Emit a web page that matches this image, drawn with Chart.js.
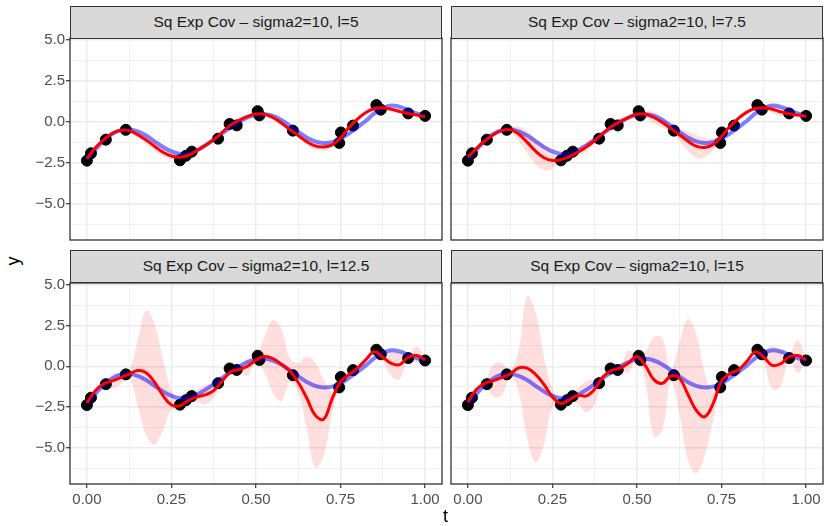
<!DOCTYPE html>
<html>
<head>
<meta charset="utf-8">
<script src="https://cdn.jsdelivr.net/npm/chart.js@4.4.1/dist/chart.umd.min.js"></script>
<style>
  body { margin: 0; width: 824px; height: 526px; position: relative; overflow: hidden; background: #fff;
         font-family: "Liberation Sans", Arial, sans-serif; }
  canvas { position: absolute; }
  .strip { position: absolute; box-sizing: border-box; background: #d9d9d9; border: 1.3px solid #333;
           color: #1a1a1a; font-size: 15.5px; text-align: center; white-space: nowrap; }
  .axtitle { position: absolute; font-size: 18px; color: #000; line-height: 1; }
</style>
</head>
<body>
<script>
// === data ===
const tGrid = [0, 0.025, 0.05, 0.075, 0.1, 0.125, 0.15, 0.175, 0.2, 0.225, 0.25, 0.275, 0.3, 0.325, 0.35, 0.375, 0.4,
  0.425, 0.45, 0.475, 0.5, 0.525, 0.55, 0.575, 0.6, 0.625, 0.65, 0.675, 0.7, 0.725, 0.75, 0.775, 0.8, 0.825, 0.85,
  0.875, 0.9, 0.925, 0.95, 0.975, 1];

// observations (black points)
const obsT = [0, 0.012, 0.056, 0.115, 0.275, 0.293, 0.31, 0.388, 0.422, 0.443, 0.505, 0.51, 0.609, 0.746, 0.751,
  0.787, 0.856, 0.869, 0.95, 1.0];
const obsY = [-2.38, -1.93, -1.1, -0.5, -2.36, -2.08, -1.83, -1.04, -0.14, -0.23, 0.64, 0.38, -0.55, -1.3, -0.66,
  -0.24, 1.01, 0.73, 0.5, 0.35];

// true function (blue)
const trueY = [-2.3, -1.7, -1.15, -0.75, -0.52, -0.47, -0.6, -0.85, -1.2, -1.55, -1.82, -1.97, -1.95, -1.75, -1.45,
  -1.1, -0.72, -0.35, -0.02, 0.25, 0.42, 0.45, 0.35, 0.1, -0.25, -0.62, -0.97, -1.2, -1.3, -1.25, -1.05, -0.72,
  -0.35, 0.05, 0.5, 0.82, 0.98, 0.9, 0.7, 0.5, 0.35];

// l = 5
const mean5 = [-2.25, -1.6, -1.1, -0.72, -0.53, -0.55, -0.8, -1.12, -1.5, -1.87, -2.1, -2.17, -2.05, -1.78, -1.45,
  -1.1, -0.65, -0.2, 0.08, 0.32, 0.46, 0.45, 0.25, -0.08, -0.48, -0.85, -1.22, -1.48, -1.55, -1.42, -1.0, -0.35,
  0.15, 0.55, 0.8, 0.85, 0.75, 0.62, 0.5, 0.4, 0.3];
const lo5 = [-2.3, -1.68, -1.18, -0.84, -0.61, -0.65, -0.98, -1.36, -1.76, -2.11, -2.28, -2.25, -2.13, -1.9, -1.6,
  -1.22, -0.73, -0.26, 0.0, 0.22, 0.4, 0.33, 0.09, -0.24, -0.58, -0.99, -1.42, -1.7, -1.75, -1.56, -1.05, -0.41,
  0.07, 0.47, 0.74, 0.79, 0.63, 0.48, 0.42, 0.33, 0.25];
const hi5 = [-2.2, -1.52, -1.02, -0.6, -0.45, -0.45, -0.62, -0.88, -1.24, -1.63, -1.92, -2.09, -1.97, -1.66, -1.3,
  -0.98, -0.57, -0.14, 0.16, 0.42, 0.52, 0.57, 0.41, 0.08, -0.38, -0.71, -1.02, -1.26, -1.35, -1.28, -0.95, -0.29,
  0.23, 0.63, 0.86, 0.91, 0.87, 0.76, 0.58, 0.47, 0.35];

// l = 7.5
const mean75 = [-2.16, -1.65, -1.18, -0.8, -0.55, -0.5, -0.75, -1.25, -1.8, -2.2, -2.37, -2.32, -2.13, -1.87, -1.55,
  -1.15, -0.7, -0.3, 0.0, 0.25, 0.46, 0.45, 0.25, -0.05, -0.42, -0.8, -1.18, -1.5, -1.58, -1.4, -0.9, -0.28, 0.2,
  0.58, 0.8, 0.85, 0.75, 0.6, 0.48, 0.4, 0.33];
const lo75 = [-2.21, -1.75, -1.28, -0.95, -0.65, -0.65, -1.2, -1.9, -2.6, -2.95, -2.87, -2.47, -2.25, -2.09, -1.83,
  -1.37, -0.8, -0.38, -0.12, 0.1, 0.38, 0.23, -0.1, -0.37, -0.57, -1.15, -1.78, -2.2, -2.18, -1.75, -0.98, -0.38,
  0.05, 0.46, 0.72, 0.75, 0.53, 0.35, 0.38, 0.3, 0.28];
const hi75 = [-2.11, -1.55, -1.08, -0.65, -0.45, -0.35, -0.3, -0.6, -1.0, -1.45, -1.87, -2.17, -2.01, -1.65, -1.27,
  -0.93, -0.6, -0.22, 0.12, 0.4, 0.54, 0.67, 0.6, 0.27, -0.27, -0.45, -0.58, -0.8, -0.98, -1.05, -0.82, -0.18, 0.35,
  0.7, 0.88, 0.95, 0.97, 0.85, 0.58, 0.5, 0.38];

// l = 12.5
const mean125 = [-2.24, -1.5, -1.08, -0.9, -0.7, -0.48, -0.27, -0.4, -0.98, -1.8, -2.38, -2.42, -2.1, -1.88, -1.76,
  -1.5, -0.9, -0.35, -0.2, 0.0, 0.38, 0.6, 0.47, 0.12, -0.3, -1.0, -1.95, -3.0, -3.25, -2.0, -0.95, -0.52, -0.12,
  0.4, 0.88, 0.55, 0.18, 0.1, 0.55, 0.65, 0.4];
const lo125 = [-2.32, -1.6, -1.15, -1.35, -1.1, -0.75, -2.4, -4.2, -4.8, -3.9, -2.65, -2.55, -2.25, -2.2, -2.35,
  -1.95, -1.05, -0.45, -0.35, -0.6, 0.25, -0.4, -1.6, -2.15, -1.0, -1.6, -3.8, -6.2, -5.5, -2.9, -1.15, -0.65,
  -0.25, 0.2, 0.78, 0.3, -0.6, -0.8, 0.45, 0.2, 0.32];
const hi125 = [-2.16, -1.4, -1.0, -0.5, -0.35, -0.25, 1.6, 3.4, 2.6, 0.4, -1.5, -2.3, -1.95, -1.5, -1.15, -1.1,
  -0.75, -0.25, -0.05, 0.45, 0.55, 1.8, 2.8, 2.3, 0.5, 0.2, 0.6, 0.25, -0.8, -1.55, -0.75, -0.4, 0.0, 0.55, 0.98,
  0.8, 0.9, 0.8, 0.65, 1.2, 0.48];

// l = 15
const mean15 = [-2.18, -1.43, -1.05, -0.88, -0.7, -0.48, -0.1, -0.12, -0.5, -1.12, -1.88, -2.28, -2.05, -1.78, -1.82,
  -1.4, -0.65, -0.25, -0.12, 0.2, 0.6, 0.02, -0.82, -1.05, -0.6, -0.72, -1.7, -2.7, -3.1, -2.3, -0.9, -0.45, -0.22,
  0.3, 0.88, 0.55, 0.05, 0.15, 0.58, 0.65, 0.4];
const lo15 = [-2.25, -1.53, -1.15, -1.85, -1.8, -0.65, -1.6, -4.4, -5.9, -4.8, -2.5, -2.45, -2.2, -2.3, -2.8, -2.3,
  -0.85, -0.35, -0.3, -0.35, 0.45, -1.0, -4.3, -3.9, -1.0, -2.8, -5.7, -6.55, -5.5, -3.3, -1.15, -0.6, -0.35, 0.15,
  0.78, 0.2, -1.4, -1.2, 0.45, -0.4, 0.3];
const hi15 = [-2.1, -1.33, -0.95, 0.1, 0.2, -0.3, 1.0, 4.3, 3.3, 0.6, -1.4, -2.15, -1.9, -1.35, -0.9, -0.8, -0.5,
  -0.1, 0.0, 1.0, 0.7, 0.9, 1.8, 1.7, -0.2, 1.4, 2.9, 2.0, -0.4, -1.5, -0.7, -0.3, -0.05, 0.45, 0.98, 0.95, 1.25,
  1.0, 0.7, 1.6, 0.48];

const panelTitles = ['Sq Exp Cov – sigma2=10, l=5', 'Sq Exp Cov – sigma2=10, l=7.5',
  'Sq Exp Cov – sigma2=10, l=12.5', 'Sq Exp Cov – sigma2=10, l=15'];

const xGridVals = [0, 0.125, 0.25, 0.375, 0.5, 0.625, 0.75, 0.875, 1];
const xMajor = [0, 0.25, 0.5, 0.75, 1];
const xTickLabels = ['0.00', '0.25', '0.50', '0.75', '1.00'];
const yGridVals = [-6.25, -5, -3.75, -2.5, -1.25, 0, 1.25, 2.5, 3.75, 5];
const yMajor = [-5, -2.5, 0, 2.5, 5];
const yTickLabels = ['\u22125.0', '\u22122.5', '0.0', '2.5', '5.0'];

const means = [mean5, mean75, mean125, mean15];
const lows = [lo5, lo75, lo125, lo15];
const highs = [hi5, hi75, hi125, hi15];

// === layout ===
const FONT = '"Liberation Sans", Arial, sans-serif';
const boxes = [
  { x: 0,   y: 34,  w: 446, h: 210, yw: 70, xh: 4,  padR: 4, yLab: true,  xLab: false, stripTop: 6 },
  { x: 447, y: 34,  w: 377, h: 210, yw: 4,  xh: 4,  padR: 1, yLab: false, xLab: false, stripTop: 6 },
  { x: 0,   y: 279, w: 446, h: 247, yw: 70, xh: 42, padR: 4, yLab: true,  xLab: true,  stripTop: 250 },
  { x: 447, y: 279, w: 377, h: 247, yw: 4,  xh: 42, padR: 1, yLab: false, xLab: true,  stripTop: 250 }
];

const framePlugin = {
  id: 'frame',
  afterDraw(chart) {
    const a = chart.chartArea, c = chart.ctx;
    c.save();
    c.strokeStyle = '#333333';
    c.lineWidth = 1.3;
    c.strokeRect(a.left, a.top, a.right - a.left, a.bottom - a.top);
    c.restore();
  }
};

function xy(ys) { return tGrid.map((t, k) => ({ x: t, y: ys[k] })); }
function noPad(s) { s.paddingTop = 0; s.paddingBottom = 0; s.paddingLeft = 0; s.paddingRight = 0; }

function makePanel(i) {
  const b = boxes[i];
  const cv = document.createElement('canvas');
  cv.width = b.w; cv.height = b.h;
  cv.style.left = b.x + 'px'; cv.style.top = b.y + 'px';
  document.body.appendChild(cv);

  const strip = document.createElement('div');
  strip.className = 'strip';
  strip.textContent = panelTitles[i];
  strip.style.left = (b.x + b.yw) + 'px';
  strip.style.top = b.stripTop + 'px';
  strip.style.width = (b.w - b.yw - b.padR) + 'px';
  strip.style.height = '33px';
  strip.style.lineHeight = '30px';
  document.body.appendChild(strip);

  new Chart(cv, {
    type: 'line',
    data: {
      datasets: [
        { data: xy(highs[i]), borderColor: 'rgba(0,0,0,0)', borderWidth: 1, pointRadius: 0, tension: 0.4, fill: false, order: 5 },
        { data: xy(lows[i]), borderColor: 'rgba(0,0,0,0)', borderWidth: 1, pointRadius: 0, tension: 0.4, fill: '-1',
          backgroundColor: 'rgba(255,0,0,0.13)', order: 4 },
        { data: obsT.map((t, k) => ({ x: t, y: obsY[k] })), showLine: false, pointRadius: 5.5,
          pointBackgroundColor: '#000', pointBorderColor: '#000', pointBorderWidth: 1, order: 3 },
        { data: xy(trueY), borderColor: 'rgba(0,0,255,0.5)', borderWidth: 4, pointRadius: 0, tension: 0.4, fill: false, order: 2 },
        { data: xy(means[i]), borderColor: '#ff0000', borderWidth: 3, pointRadius: 0, tension: 0.4, fill: false, order: 1 }
      ]
    },
    options: {
      responsive: false,
      animation: false,
      devicePixelRatio: 1,
      layout: { autoPadding: false, padding: { top: 4, right: b.padR, left: 0, bottom: 0 } },
      plugins: { legend: { display: false }, tooltip: { enabled: false } },
      scales: {
        x: {
          type: 'linear', min: -0.05, max: 1.05,
          afterBuildTicks: s => { s.ticks = xGridVals.map(v => ({ value: v })); },
          afterFit: s => { s.height = b.xh; noPad(s); },
          ticks: {
            display: b.xLab, autoSkip: false, maxRotation: 0, padding: 3, color: '#4d4d4d',
            font: { family: FONT, size: 15 },
            callback: v => { const k = xMajor.indexOf(v); return k < 0 ? '' : xTickLabels[k]; }
          },
          grid: {
            color: '#ebebeb',
            lineWidth: c => (c.tick && xMajor.includes(c.tick.value)) ? 1.4 : 0.7,
            drawTicks: b.xLab, tickLength: 4, tickWidth: 1.2,
            tickColor: c => (c.tick && xMajor.includes(c.tick.value)) ? '#333333' : 'rgba(0,0,0,0)'
          },
          border: { display: false }
        },
        y: {
          type: 'linear', min: -7.22, max: 5.1,
          afterBuildTicks: s => { s.ticks = yGridVals.map(v => ({ value: v })); },
          afterFit: s => { s.width = b.yw; noPad(s); },
          ticks: {
            display: b.yLab, autoSkip: false, padding: 1, color: '#4d4d4d',
            font: { family: FONT, size: 15 },
            callback: v => { const k = yMajor.indexOf(v); return k < 0 ? '' : yTickLabels[k]; }
          },
          grid: {
            color: '#ebebeb',
            lineWidth: c => (c.tick && yMajor.includes(c.tick.value)) ? 1.4 : 0.7,
            drawTicks: b.yLab, tickLength: 4, tickWidth: 1.2,
            tickColor: c => (c.tick && yMajor.includes(c.tick.value)) ? '#333333' : 'rgba(0,0,0,0)'
          },
          border: { display: false }
        }
      }
    },
    plugins: [framePlugin]
  });
}

for (let i = 0; i < 4; i++) makePanel(i);

// axis titles
const yt = document.createElement('div');
yt.className = 'axtitle';
yt.textContent = 'y';
yt.style.left = '8px'; yt.style.top = '252px';
yt.style.transform = 'rotate(-90deg)';
document.body.appendChild(yt);

const tt = document.createElement('div');
tt.className = 'axtitle';
tt.textContent = 't';
tt.style.left = '443px'; tt.style.top = '507px';
document.body.appendChild(tt);
</script>
</body>
</html>
